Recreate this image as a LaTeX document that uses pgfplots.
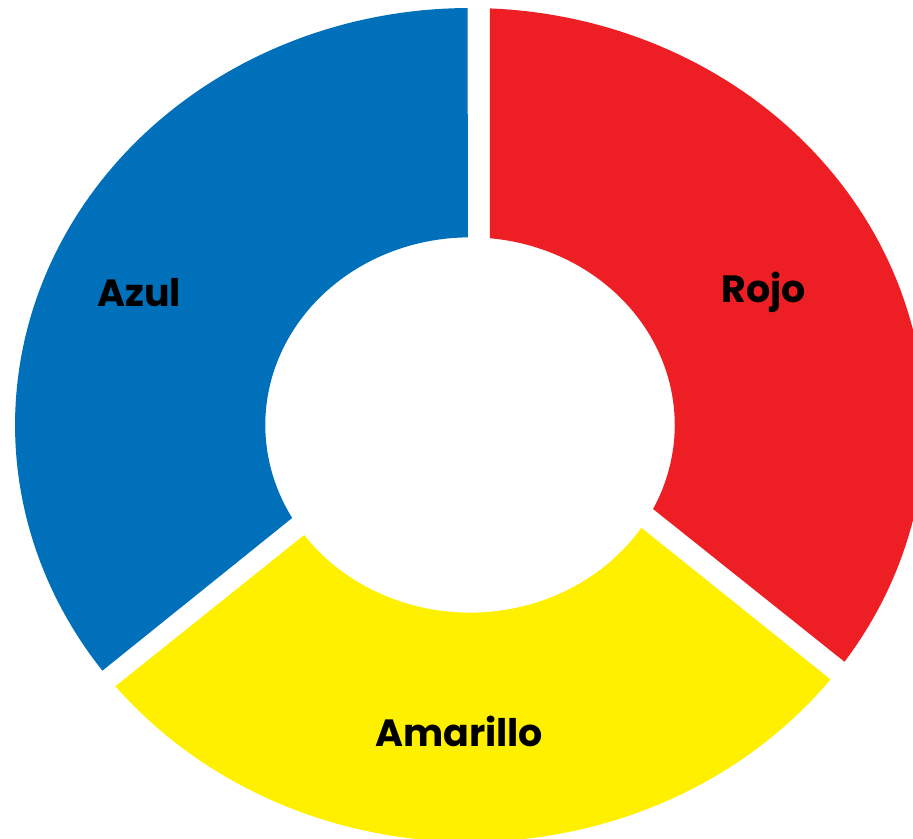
\documentclass[border=0pt]{standalone}
\usepackage{pgfplots}
\pgfplotsset{compat=1.18}
\usepackage{fontspec}
\setmainfont{Poppins}
\definecolor{cRojo}{RGB}{237,31,36}
\definecolor{cAzul}{RGB}{0,112,186}
\definecolor{cAmar}{RGB}{255,240,0}
% segment: color, outer start, outer end, inner start, inner end (degrees)
\newcommand\seg[5]{%
  \fill[#1] plot[domain=#2:#3, samples=90, variable=\t] ({cos(\t)},{sin(\t)})
    -- plot[domain=#5:#4, samples=60, variable=\t] ({0.45*cos(\t)},{0.45*sin(\t)}) -- cycle;}
\begin{document}
\begin{tikzpicture}
\begin{axis}[
  scale only axis, width=9.13cm, height=8.39cm,
  xmin=-1.033, xmax=0.9736, ymin=-0.9928, ymax=1.0192,
  hide axis, clip=true]
% shares (approx.): Rojo 35, Azul 36, Amarillo 29
\seg{cRojo}{87.5}{-34.6}{84.4}{-26.6}
\seg{cAzul}{90.3}{216.1}{90.6}{209.7}
\seg{cAmar}{218.8}{322.4}{215.9}{326.8}
\node[font=\fontsize{10.8}{13}\selectfont\bfseries] at (axis cs:-0.727,0.317) {Azul};
\node[font=\fontsize{10.8}{13}\selectfont\bfseries] at (axis cs:0.646,0.317) {Rojo};
\node[font=\fontsize{10.8}{13}\selectfont\bfseries] at (axis cs:-0.024,-0.734) {Amarillo};
\end{axis}
\pgfresetboundingbox
\path[use as bounding box] (current axis.south west) rectangle (current axis.north east);
\end{tikzpicture}
\end{document}
